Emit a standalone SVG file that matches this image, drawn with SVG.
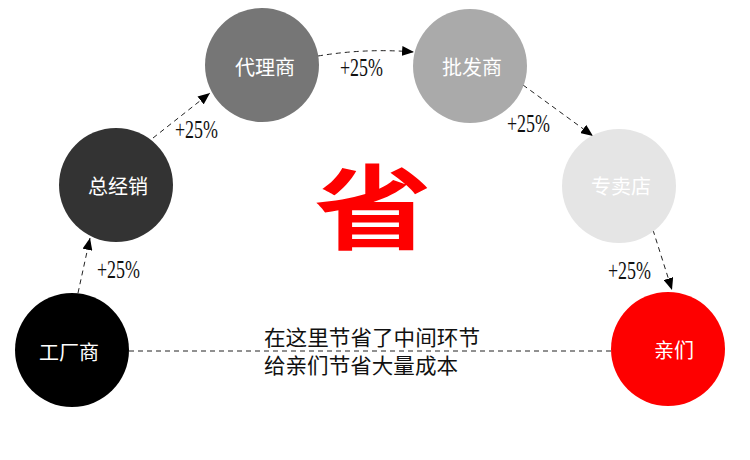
<svg xmlns="http://www.w3.org/2000/svg" width="750" height="460" viewBox="0 0 750 460">
<defs>
<style>
.lbl{font-family:"Noto Sans CJK SC","Noto Sans",sans-serif;font-size:20px;fill:#fff;text-anchor:middle}
.pct{font-family:"Liberation Serif","DejaVu Serif",serif;font-size:25px;fill:#111}
.cn{font-family:"Noto Sans CJK SC",sans-serif;font-size:21px;fill:#111}
.con{fill:none;stroke:#222;stroke-width:1;stroke-dasharray:5 4}
</style>
<marker id="ah" viewBox="0 0 12 10" refX="12" refY="5" markerWidth="12" markerHeight="10" markerUnits="userSpaceOnUse" orient="auto">
<path d="M0,0 L12,5 L0,10 Z" fill="#000"/>
</marker>
</defs>
<rect width="750" height="460" fill="#fff"/>
<g id="connectors">
<path class="con" d="M78,293 L90,238" marker-end="url(#ah)"/>
<path class="con" d="M153,138 L210,93" marker-end="url(#ah)"/>
<path class="con" d="M318,56 Q366,48 414,52" marker-end="url(#ah)"/>
<path class="con" d="M523,85 L593,136" marker-end="url(#ah)"/>
<path class="con" d="M653,230 L672,290" marker-end="url(#ah)"/>
<path class="con" d="M129,351 L611,351"/>
</g>
<g id="n1"><circle cx="72" cy="350" r="57" fill="#000"/><text class="lbl" x="69" y="360">工厂商</text></g>
<g id="n2"><circle cx="116" cy="185" r="57" fill="#333"/><text class="lbl" x="118" y="194">总经销</text></g>
<g id="n3"><circle cx="262" cy="65" r="57" fill="#767676"/><text class="lbl" x="265" y="75">代理商</text></g>
<g id="n4"><circle cx="470" cy="66" r="57" fill="#aaa"/><text class="lbl" x="472" y="75">批发商</text></g>
<g id="n5"><circle cx="619" cy="186" r="57" fill="#e5e5e5"/><text class="lbl" x="621" y="194">专卖店</text></g>
<g id="n6"><circle cx="668" cy="349" r="57" fill="#fe0000"/><text class="lbl" x="674" y="358">亲们</text></g>
<g id="labels">
<text class="pct" x="97" y="278" textLength="43" lengthAdjust="spacingAndGlyphs">+25%</text>
<text class="pct" x="175" y="138" textLength="43" lengthAdjust="spacingAndGlyphs">+25%</text>
<text class="pct" x="340" y="76" textLength="43" lengthAdjust="spacingAndGlyphs">+25%</text>
<text class="pct" x="507" y="132" textLength="43" lengthAdjust="spacingAndGlyphs">+25%</text>
<text class="pct" x="608" y="279" textLength="43" lengthAdjust="spacingAndGlyphs">+25%</text>
<text class="cn" x="264" y="345" textLength="216" lengthAdjust="spacingAndGlyphs">在这里节省了中间环节</text>
<text class="cn" x="264" y="373" textLength="194" lengthAdjust="spacingAndGlyphs">给亲们节省大量成本</text>
<text x="373" y="245" transform="translate(373,207) scale(1.18,0.92) translate(-373,-207)" font-family="Noto Sans CJK SC,sans-serif" font-weight="bold" font-size="100" fill="#fe0000" text-anchor="middle">省</text>
</g>
</svg>
